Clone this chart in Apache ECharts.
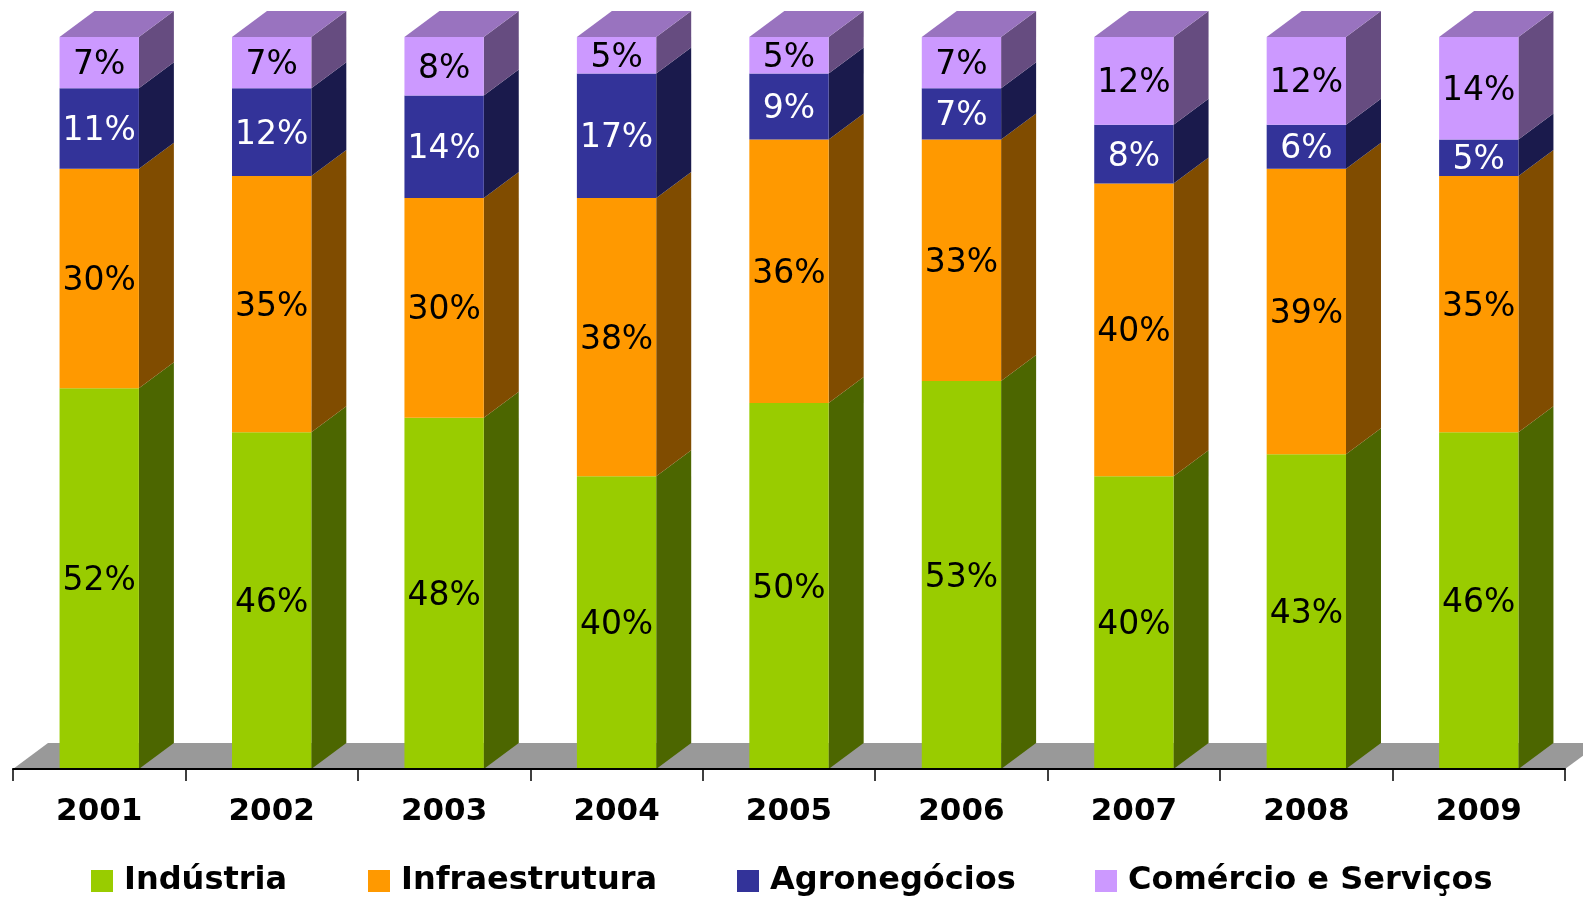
<!DOCTYPE html>
<html>
<head>
<meta charset="utf-8">
<script src="https://cdn.jsdelivr.net/npm/echarts@6/dist/echarts.min.js"></script>
<style>html,body{margin:0;padding:0;background:#fff}#c{width:1583px;height:899px}</style>
</head>
<body>
<div id="c"></div>
<script>
const categories = ['2001','2002','2003','2004','2005','2006','2007','2008','2009'];
const seriesNames = ['Indústria','Infraestrutura','Agronegócios','Comércio e Serviços'];
const industria = [52,46,48,40,50,53,40,43,46];
const infraestrutura = [30,35,30,38,36,33,40,39,35];
const agronegocios = [11,12,14,17,9,7,8,6,5];
const comercio = [7,7,8,5,5,7,12,12,14];

const values = [industria, infraestrutura, agronegocios, comercio];
const frontColors = ['#99CC00','#FF9900','#333399','#CC99FF'];
const sideColors = ['#4C6600','#804C00','#1A1A4C','#664C80'];
const topColors = ['#739900','#BF7300','#262673','#9973BF'];
const labelColors = ['#000','#000','#fff','#000'];
const DX = 35, DY = -26;

const chart = echarts.init(document.getElementById('c'), null, {renderer:'canvas'});

function makeData(k){
  return categories.map((c,i)=>{
    let s = 0;
    for(let j=0;j<k;j++) s += values[j][i];
    return [i, s, s + values[k][i], values[k][i]];
  });
}

function barRender(k){
  return function(params, api){
    const i = api.value(0), s = api.value(1), e = api.value(2), v = api.value(3);
    const p0 = api.coord([i, s]);
    const p1 = api.coord([i, e]);
    const bw = api.size([1,0])[0] * 0.46;
    const x0 = p0[0] - bw/2, x1 = x0 + bw, yB = p0[1], yT = p1[1];
    const children = [
      {type:'polygon', shape:{points:[[x1,yB],[x1,yT],[x1+DX,yT+DY],[x1+DX,yB+DY]]}, style:{fill:sideColors[k]}},
      {type:'rect', shape:{x:x0,y:yT,width:bw,height:yB-yT}, style:{fill:frontColors[k]}}
    ];
    if(k === values.length-1){
      children.push({type:'polygon', shape:{points:[[x0,yT],[x1,yT],[x1+DX,yT+DY],[x0+DX,yT+DY]]}, style:{fill:topColors[k]}});
    }
    children.push({type:'text', style:{text: v + '%', x:(x0+x1)/2, y:(yT+yB)/2 + 3, align:'center', verticalAlign:'middle', fill:labelColors[k], font:'33px "DejaVu Sans"'}});
    return {type:'group', children};
  };
}

const series = [{
  type:'custom', name:'floor', z:1, silent:true, clip:false,
  data:[[0,0]],
  encode:{x:0,y:1},
  renderItem(params, api){
    const cs = params.coordSys;
    const yb = cs.y + cs.height;
    return {type:'polygon', shape:{points:[[cs.x,yb],[cs.x+cs.width,yb],[cs.x+cs.width+DX,yb+DY],[cs.x+DX,yb+DY]]}, style:{fill:'#999999'}};
  }
}];
seriesNames.forEach((n,k)=>{
  series.push({
    type:'custom', name:n, z:2+k, clip:false,
    itemStyle:{color:frontColors[k]},
    data:makeData(k),
    encode:{x:0,y:[1,2]},
    renderItem:barRender(k)
  });
});

const legendLefts = [86, 363, 732, 1090];
const legends = seriesNames.map((n,k)=>({
  data:[n], left:legendLefts[k], top:860, orient:'horizontal',
  icon:'rect', itemWidth:22, itemHeight:22, selectedMode:false,
  textStyle:{fontFamily:'DejaVu Sans', fontWeight:'bold', fontSize:32, color:'#000', lineHeight:32, padding:[0,0,0,6]}
}));

chart.setOption({
  animation:false,
  backgroundColor:'#fff',
  grid:{left:13, width:1552, top:37, bottom:130, containLabel:false},
  legend:legends,
  xAxis:{
    type:'category', data:categories, boundaryGap:true,
    axisLine:{show:true, lineStyle:{color:'#000', width:2}},
    axisTick:{show:true, length:12, lineStyle:{color:'#000', width:1.5}},
    axisLabel:{fontFamily:'DejaVu Sans', fontWeight:'bold', fontSize:31, color:'#000', margin:27},
    z:10
  },
  yAxis:{type:'value', min:0, max:100, show:false, splitLine:{show:false}},
  series
});
</script>
</body>
</html>
